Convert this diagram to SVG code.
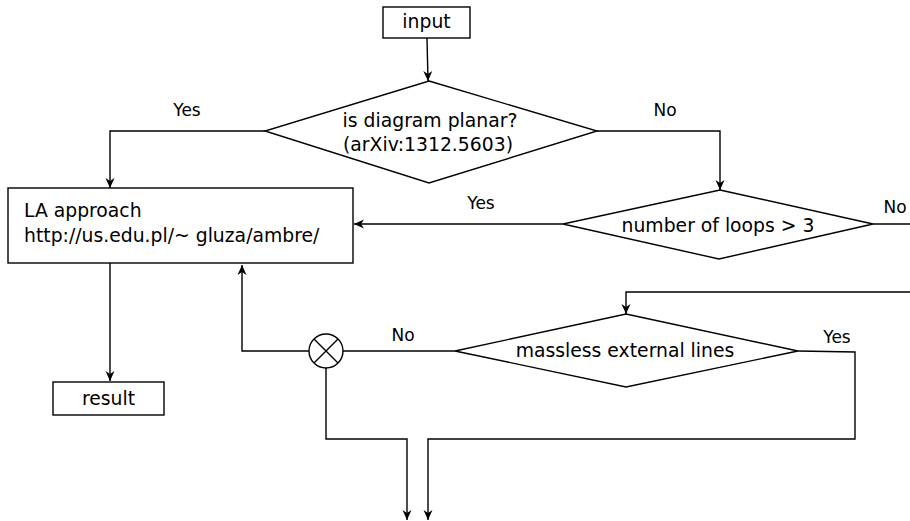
<svg xmlns="http://www.w3.org/2000/svg" width="910" height="521" viewBox="0 0 910 521">
<style>
.n{fill:#fff;stroke:#000;stroke-width:1.4}
.c{fill:none;stroke:#000;stroke-width:1.4}
text{font-family:"DejaVu Sans",sans-serif;font-size:18.8px;fill:#000}
.m{text-anchor:middle}
.l{font-size:17px}
</style>
<defs>
<marker id="a" viewBox="-11 -6 12 12" refX="0" refY="0" markerWidth="12" markerHeight="12" markerUnits="userSpaceOnUse" orient="auto">
<path d="M0,0 L-10,-4.5 L-7,0 L-10,4.5 Z" fill="#000"/>
</marker>
</defs>
<rect width="910" height="521" fill="#fff"/>
<g id="connectors">
<path class="c" d="M427,38 L428,81" marker-end="url(#a)"/>
<path class="c" d="M265,131 H110 V188" marker-end="url(#a)"/>
<path class="c" d="M597,131 H720 V190" marker-end="url(#a)"/>
<path class="c" d="M563,224 H354" marker-end="url(#a)"/>
<path class="c" d="M873,224 H910"/>
<path class="c" d="M910,292 H626 V314" marker-end="url(#a)"/>
<path class="c" d="M110,263 V381" marker-end="url(#a)"/>
<path class="c" d="M455,351 H343"/>
<path class="c" d="M309,351 H242 V265" marker-end="url(#a)"/>
<path class="c" d="M326,368 V439 H407 V520" marker-end="url(#a)"/>
<path class="c" d="M798,351 L855,352 V439 H428 V520" marker-end="url(#a)"/>
</g>
<g id="labels">
<text class="l" x="187" y="116" text-anchor="middle">Yes</text>
<text class="l" x="665" y="116" text-anchor="middle">No</text>
<text class="l" x="481" y="209" text-anchor="middle">Yes</text>
<text class="l" x="895" y="213" text-anchor="middle">No</text>
<text class="l" x="403" y="341" text-anchor="middle">No</text>
<text class="l" x="837" y="343" text-anchor="middle">Yes</text>
</g>
<g id="input">
<rect class="n" x="383" y="7" width="87" height="31"/>
<text class="m" x="426.5" y="28">input</text>
</g>
<g id="planar">
<polygon class="n" points="429,81 597,131 429,183 265,131"/>
<text class="m" x="430" y="127">is diagram planar?</text>
<text class="m" x="428" y="151">(arXiv:1312.5603)</text>
</g>
<g id="la">
<rect class="n" x="8" y="188" width="345" height="75"/>
<text x="24" y="217">LA approach</text>
<text x="24" y="242">http://us.edu.pl/~ gluza/ambre/</text>
</g>
<g id="loops">
<polygon class="n" points="720,190 873,224 719,259 563,224"/>
<text class="m" x="718" y="232">number of loops &gt; 3</text>
</g>
<g id="massless">
<polygon class="n" points="626,314 798,351 626,387 455,351"/>
<text class="m" x="625" y="357">massless external lines</text>
</g>
<g id="junction">
<circle class="n" cx="326" cy="351" r="17"/>
<path class="c" d="M314,339 L338,363 M338,339 L314,363"/>
</g>
<g id="result">
<rect class="n" x="53" y="382" width="111" height="33"/>
<text class="m" x="108.5" y="405">result</text>
</g>
</svg>
